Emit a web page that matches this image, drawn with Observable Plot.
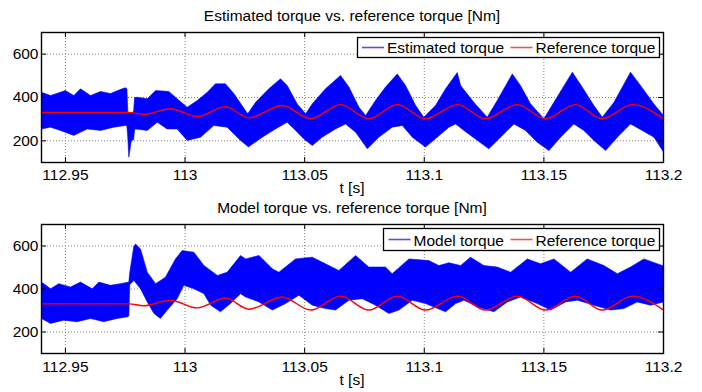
<!DOCTYPE html>
<html>
<head>
<meta charset="utf-8">
<script src="https://cdn.jsdelivr.net/npm/d3@7"></script>
<script src="https://cdn.jsdelivr.net/npm/@observablehq/plot@0.6"></script>
<style>
  html, body { margin: 0; padding: 0; background: #fff; }
  #wrap { position: relative; width: 702px; height: 392px; background: #fff; overflow: hidden;
          font-family: 'Liberation Sans', Arial, Helvetica, sans-serif; }
  .panel { position: absolute; left: 0; }
  #overlay { position: absolute; left: 0; top: 0; }
</style>
</head>
<body>
<div id="wrap"></div>
<script>
// ---------------- data ----------------
const timeDomain = [112.94, 113.2];
const torqueDomain = [100, 700];
const xTicks = [112.95, 113, 113.05, 113.1, 113.15, 113.2];
const xTickLabels = ["112.95", "113", "113.05", "113.1", "113.15", "113.2"];
const yTicks = [200, 400, 600];

const titles = ["Estimated torque vs. reference torque [Nm]", "Model torque vs. reference torque [Nm]"];
const xLabel = "t [s]";
const legendTop = ["Estimated torque", "Reference torque"];
const legendBottom = ["Model torque", "Reference torque"];

// Estimated torque: upper / lower envelope of the fast oscillation [t, Nm]
const estUpper = [
  [112.94,424],[112.9438,409],[112.95,432],[112.9535,409],[112.9563,440],[112.9605,409],
  [112.9647,428],[112.9688,418],[112.9737,440],[112.9751,445],[112.9757,440],[112.9761,330],
  [112.9775,330],[112.9785,335],[112.9789,400],[112.98,401],[112.9842,394],[112.9877,432],
  [112.9932,428],[112.9967,394],[113.0009,355],[113.0051,386],[113.0093,424],[113.0127,463],
  [113.0169,463],[113.0204,418],[113.0246,350],[113.0262,325],[113.0295,378],[113.035,440],
  [113.0399,486],[113.0427,455],[113.0469,370],[113.0504,325],[113.0532,371],[113.0587,440],
  [113.065,502],[113.0685,448],[113.0727,355],[113.0755,317],[113.0796,386],[113.0838,448],
  [113.0887,509],[113.0922,455],[113.0964,363],[113.0998,309],[113.1047,363],[113.1089,440],
  [113.1138,515],[113.1152,455],[113.1207,378],[113.1263,309],[113.1305,386],[113.1368,509],
  [113.1402,455],[113.1444,371],[113.15,302],[113.1542,378],[113.1619,517],[113.166,448],
  [113.1709,363],[113.1744,309],[113.1793,378],[113.1862,517],[113.1904,455],[113.196,370],
  [113.2,317]
];
const estLower = [
  [112.94,255],[112.9438,263],[112.9479,248],[112.9535,225],[112.9591,255],[112.9647,248],
  [112.9702,263],[112.9751,271],[112.9757,268],[112.9761,210],[112.9765,125],[112.977,160],
  [112.9775,200],[112.9785,205],[112.9789,250],[112.9793,255],[112.9842,248],[112.9884,286],
  [112.9925,255],[112.9967,255],[113.0009,202],[113.0065,217],[113.012,271],[113.0176,263],
  [113.0232,202],[113.0265,172],[113.0323,217],[113.0378,255],[113.0427,286],[113.0462,248],
  [113.0497,209],[113.0532,178],[113.0573,217],[113.0629,255],[113.0671,278],[113.0713,240],
  [113.0762,163],[113.081,217],[113.0866,263],[113.0908,271],[113.095,217],[113.1005,171],
  [113.1054,217],[113.1103,263],[113.1131,278],[113.1166,248],[113.1222,202],[113.127,163],
  [113.1319,217],[113.1375,278],[113.1423,248],[113.1472,194],[113.1521,155],[113.157,217],
  [113.1625,278],[113.1667,248],[113.1709,202],[113.1758,155],[113.1807,217],[113.1862,278],
  [113.1911,248],[113.196,217],[113.2,148]
];

// Model torque envelopes [t, Nm]
const modelUpper = [
  [112.94,432],[112.9438,401],[112.9472,425],[112.9521,409],[112.9563,432],[112.9612,401],
  [112.964,432],[112.9688,417],[112.973,425],[112.9765,432],[112.9769,478],[112.9786,600],
  [112.9793,609],[112.9814,586],[112.9842,478],[112.9877,425],[112.9918,455],[112.996,540],
  [112.9988,579],[113.0037,571],[113.0079,509],[113.0135,463],[113.0176,478],[113.0232,556],
  [113.0253,540],[113.0309,556],[113.0365,494],[113.0392,478],[113.0462,540],[113.0532,548],
  [113.0587,517],[113.0643,486],[113.0713,556],[113.0768,502],[113.0838,502],[113.0866,471],
  [113.0936,540],[113.1019,532],[113.1061,509],[113.1103,522],[113.1152,509],[113.1193,548],
  [113.1249,509],[113.1305,502],[113.1361,478],[113.1431,540],[113.1486,517],[113.1542,540],
  [113.1612,478],[113.1681,540],[113.1751,509],[113.1807,471],[113.1862,502],[113.1918,540],
  [113.2,507]
];
const modelLower = [
  [112.94,263],[112.9438,240],[112.9493,255],[112.9549,248],[112.9605,263],[112.966,248],
  [112.9716,263],[112.9761,271],[112.9765,275],[112.9769,420],[112.9786,440],[112.9814,401],
  [112.9842,340],[112.987,286],[112.9897,263],[112.9925,301],[112.9967,355],[112.9995,417],
  [113.0037,401],[113.0079,378],[113.0107,325],[113.0148,294],[113.019,332],[113.0232,378],
  [113.0253,363],[113.0309,340],[113.0365,302],[113.042,332],[113.0476,371],[113.0532,325],
  [113.0587,309],[113.0629,302],[113.0685,348],[113.0741,355],[113.0796,325],[113.0852,286],
  [113.0894,302],[113.095,348],[113.1005,332],[113.1089,294],[113.1131,332],[113.1166,348],
  [113.1222,317],[113.1291,294],[113.1347,340],[113.1402,363],[113.1472,332],[113.1528,302],
  [113.1591,340],[113.164,348],[113.1709,325],[113.1779,302],[113.1834,309],[113.189,340],
  [113.1946,325],[113.2,340]
];

// Reference torque: flat, then slow oscillation (extremes) [t, Nm]
const refTorque = [
  [112.94,331],[112.9765,331],[112.9828,322],[112.9939,348],[113.0051,312],[113.0169,358],
  [113.0267,306],[113.0406,363],[113.0525,302],[113.065,367],[113.0768,302],[113.0887,367],
  [113.1005,302],[113.1139,367],[113.1256,302],[113.1389,367],[113.1507,302],[113.1632,367],
  [113.1744,302],[113.187,367],[113.2,302]
];

// ---------------- drawing ----------------
const W = 702, ML = 41, MR = 39;
const FONT = "'Liberation Sans', Arial, Helvetica, sans-serif";
const BLUE = "#0000ff", RED = "#ff0000";

function panel(upper, lower, h, mt, mb, padX) {
  const band = upper.map(([t, v]) => ({t, v}))
    .concat(lower.slice().reverse().map(([t, v]) => ({t, v})));
  const ref = refTorque.map(([t, v]) => ({t, v}));
  const plotW = W - ML - MR, plotH = h - mt - mb;
  return Plot.plot({
    width: W, height: h,
    marginLeft: ML, marginRight: MR, marginTop: mt, marginBottom: mb,
    style: {fontFamily: FONT, fontSize: "15.5px", background: "transparent", color: "black"},
    x: {domain: timeDomain},
    y: {domain: torqueDomain},
    marks: [
      Plot.gridX({ticks: xTicks, stroke: "#808080", strokeOpacity: 1, strokeWidth: 1, strokeDasharray: "1,2"}),
      Plot.gridY({ticks: yTicks, stroke: "#808080", strokeOpacity: 1, strokeWidth: 1, strokeDasharray: "1,2"}),
      Plot.line(band, {x: "t", y: "v", fill: BLUE, stroke: BLUE, strokeWidth: 0.6, curve: "linear"}),
      Plot.line(ref, {x: "t", y: "v", stroke: RED, strokeWidth: 1.4, curve: "monotone-x"}),
      Plot.tickX(xTicks, {x: d => d, stroke: "black", insetBottom: plotH - 5}),
      Plot.tickX(xTicks, {x: d => d, stroke: "black", insetTop: plotH - 5}),
      Plot.tickY(yTicks, {y: d => d, stroke: "black", insetRight: plotW - 5}),
      Plot.tickY(yTicks, {y: d => d, stroke: "black", insetLeft: plotW - 5}),
      Plot.frame({stroke: "black", strokeWidth: 1.4}),
      Plot.axisX({ticks: xTicks, tickSize: 0, tickPadding: padX, label: null, fontSize: 15.5,
                  tickFormat: d => xTickLabels[xTicks.indexOf(d)]}),
      Plot.axisY({ticks: yTicks, tickSize: 0, tickPadding: 3, label: null, fontSize: 15.5})
    ]
  });
}

const wrap = document.getElementById("wrap");
const top1 = panel(estUpper, estLower, 195, 32, 33, 6.5);
top1.classList.add("panel"); top1.style.top = "0px";
wrap.appendChild(top1);
const top2 = panel(modelUpper, modelLower, 197, 29, 39, 7.5);
top2.classList.add("panel"); top2.style.top = "195px";
wrap.appendChild(top2);

// overlay: titles, x labels, legends
const ns = "http://www.w3.org/2000/svg";
const ov = document.createElementNS(ns, "svg");
ov.setAttribute("id", "overlay");
ov.setAttribute("width", W); ov.setAttribute("height", 392);
ov.style.fontFamily = FONT; ov.style.fontSize = "15.5px";
function el(tag, attrs, text) {
  const e = document.createElementNS(ns, tag);
  for (const k in attrs) e.setAttribute(k, attrs[k]);
  if (text != null) e.textContent = text;
  ov.appendChild(e);
  return e;
}
el("text", {x: 352, y: 20.5, "text-anchor": "middle", fill: "#000"}, titles[0]);
el("text", {x: 352, y: 212.5, "text-anchor": "middle", fill: "#000"}, titles[1]);
el("text", {x: 352, y: 193, "text-anchor": "middle", fill: "#000"}, xLabel);
el("text", {x: 352, y: 385, "text-anchor": "middle", fill: "#000"}, xLabel);

function legend(x0, x1, y0, y1, labels, blueX, redX) {
  el("rect", {x: x0 + 0.5, y: y0 + 0.5, width: x1 - x0, height: y1 - y0, fill: "white", stroke: "black", "stroke-width": 1.3});
  const cy = (y0 + y1) / 2 + 0.5, base = y1 - 4;
  el("line", {x1: blueX, x2: blueX + 22, y1: cy, y2: cy, stroke: "#4d4dff", "stroke-width": 1.6});
  el("text", {x: blueX + 25, y: base, fill: "#000"}, labels[0]);
  el("line", {x1: redX, x2: redX + 22, y1: cy, y2: cy, stroke: "#ff4d4d", "stroke-width": 1.6});
  el("text", {x: redX + 25, y: base, fill: "#000"}, labels[1]);
}
legend(357, 659, 37, 57, legendTop, 362, 510.5);
legend(383, 659, 228, 250, legendBottom, 388.5, 510.5);
wrap.appendChild(ov);
</script>
</body>
</html>
